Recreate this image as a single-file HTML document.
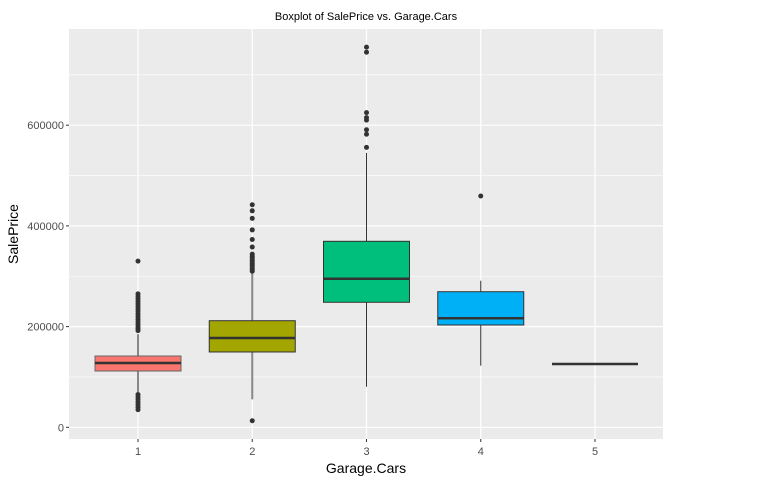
<!DOCTYPE html>
<html><head><meta charset="utf-8"><style>
body{margin:0;background:#fff;width:759px;height:484px;overflow:hidden}
svg text{font-family:"Liberation Sans",Arial,sans-serif}
</style></head><body>
<svg id="chart" width="759" height="484" xmlns="http://www.w3.org/2000/svg">
<text x="366" y="20" font-size="11" text-anchor="middle" fill="#000">Boxplot of SalePrice vs. Garage.Cars</text>
<rect x="69" y="29" width="594" height="410" fill="#EBEBEB"/>
<g id="grid"></g><g id="boxes"></g><g id="axes"></g>
<text x="366" y="473" font-size="14" text-anchor="middle" fill="#000">Garage.Cars</text>
<text transform="translate(18,234) rotate(-90)" font-size="14" text-anchor="middle" fill="#000">SalePrice</text>
</svg>
<script>
const categories=["1","2","3","4","5"];
const q1=[111800,149600,248300,203200,125700];
const medians=[127700,177400,295100,216500,125700];
const q3=[141600,211700,369400,269300,125700];
const whiskLo=[55600,55600,80600,122400,125700];
const whiskHi=[185000,310000,545000,291100,125700];
const fills=["#F8766D","#A3A500","#00BF7D","#00B0F6","#E76BF3"];
const outliers=[
 [330000,265000,260000,255000,250000,245000,240000,235000,230000,225000,220000,215000,210000,205000,200000,196000,192000,65000,60000,55000,50000,45000,40000,35000],
 [13000,310000,313000,316000,320000,323000,326000,330000,333000,337000,340000,344000,358000,373000,392000,415000,430000,442000],
 [556000,582000,591000,610000,615000,625000,745000,755000],
 [459400],
 []
];
const yTicks=[0,200000,400000,600000];
const yMinor=[100000,300000,500000,700000];
const NS="http://www.w3.org/2000/svg";
const X0=69,X1=663,Y0=29,Y1=439;
function xs(i){return 138+i*114.25;}
function ys(v){return 427.3-v*(100.7/200000);}
function mk(tag,attrs,parent){const e=document.createElementNS(NS,tag);for(const k in attrs)e.setAttribute(k,attrs[k]);parent.appendChild(e);return e;}
const grid=document.getElementById('grid'),boxes=document.getElementById('boxes'),axes=document.getElementById('axes');
yMinor.forEach(v=>{const l=mk('line',{x1:X0,x2:X1,y1:ys(v),y2:ys(v),stroke:'#fff','stroke-width':0.6},grid);

});
yTicks.forEach(v=>{const l=mk('line',{x1:X0,x2:X1,y1:ys(v),y2:ys(v),stroke:'#fff','stroke-width':1.2},grid);


const t=mk('line',{x1:X0-3,x2:X0,y1:ys(v),y2:ys(v),stroke:'#333','stroke-width':1},axes);


const tx=mk('text',{x:X0-5,y:ys(v)+4,'font-size':11,'text-anchor':'end',fill:'#4d4d4d'},axes);tx.textContent=v;

});
categories.forEach((c,i)=>{const x=xs(i);
const g=mk('line',{x1:x,x2:x,y1:Y0,y2:Y1,stroke:'#fff','stroke-width':1.2},grid);


const t=mk('line',{x1:x,x2:x,y1:Y1,y2:Y1+3,stroke:'#333'},axes);


const tx=mk('text',{x:x,y:Y1+16,'font-size':11,'text-anchor':'middle',fill:'#4d4d4d'},axes);tx.textContent=c;


const grp=mk('g',{},boxes);


const wc=i<2?'#888':'#333',ww=i<2?2:1;
mk('line',{x1:x,x2:x,y1:ys(whiskHi[i]),y2:ys(q3[i]),stroke:wc,'stroke-width':ww},grp);
mk('line',{x1:x,x2:x,y1:ys(q1[i]),y2:ys(whiskLo[i]),stroke:wc,'stroke-width':ww},grp);
const hw=43;
mk('rect',{x:x-hw,y:ys(q3[i]),width:2*hw,height:Math.max(0,ys(q1[i])-ys(q3[i])),fill:fills[i],stroke:i===0?'#666':'#333','stroke-width':1},grp);
mk('line',{x1:x-hw,x2:x+hw,y1:ys(medians[i]),y2:ys(medians[i]),stroke:'#333','stroke-width':2.5},grp);
outliers[i].forEach(v=>{const p=mk('circle',{cx:x,cy:ys(v),r:2.5,fill:'#333'},grp);

});
});
</script>
</body></html>
